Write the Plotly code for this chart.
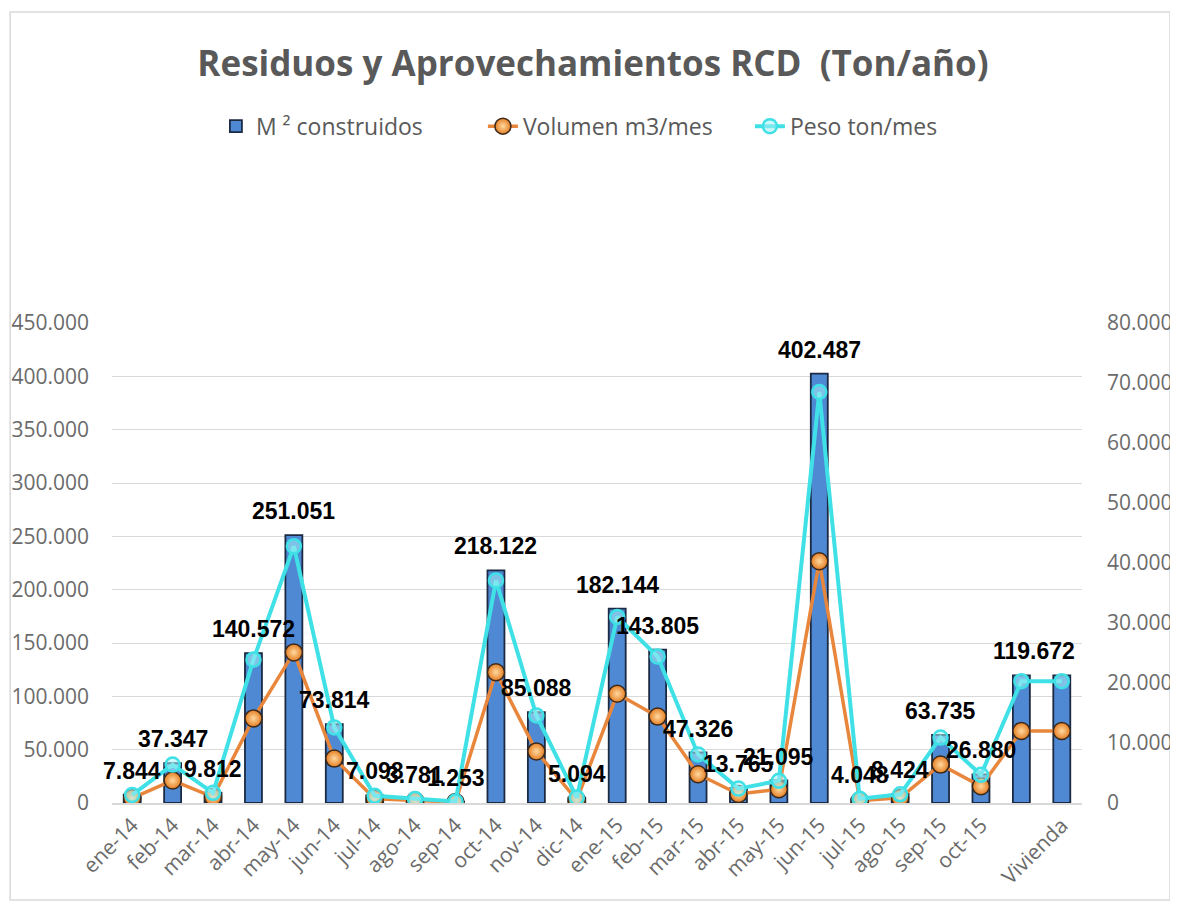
import plotly.graph_objects as go

categories = ["ene-14", "feb-14", "mar-14", "abr-14", "may-14", "jun-14", "jul-14", "ago-14",
              "sep-14", "oct-14", "nov-14", "dic-14", "ene-15", "feb-15", "mar-15", "abr-15",
              "may-15", "jun-15", "jul-15", "ago-15", "sep-15", "oct-15", "", "Vivienda"]

m2_construidos = [7844, 37347, 9812, 140572, 251051, 73814, 7098, 3781, 1253, 218122, 85088, 5094,
                  182144, 143805, 47326, 13765, 21095, 402487, 4048, 8424, 63735, 26880, 119672, 119672]

volumen_m3_mes = [800, 3750, 1000, 14100, 25100, 7400, 700, 400, 150, 21800, 8600, 500,
                  18200, 14400, 4800, 1500, 2300, 40300, 400, 850, 6400, 2800, 12000, 12000]

peso_ton_mes = [1350, 6400, 1700, 23900, 42800, 12600, 1200, 650, 250, 37100, 14600, 900,
                31000, 24400, 8100, 2400, 3700, 68500, 700, 1450, 10900, 4700, 20300, 20300]

show_label = [True] * 23 + [False]

x = list(range(len(categories)))

fig = go.Figure()

fig.add_trace(go.Bar(
    x=x, y=m2_construidos, name="M ² construidos",
    width=0.42,
    marker=dict(color="#4f89d4", line=dict(color="#1b2a42", width=1.8)),
    yaxis="y",
))

fig.add_trace(go.Scatter(
    x=x, y=volumen_m3_mes, name="Volumen m3/mes", mode="lines+markers",
    line=dict(color="#e8863c", width=3.5),
    marker=dict(symbol="circle", size=17, color="#e57e22",
                gradient=dict(type="radial", color="#ffd9a0"),
                line=dict(color="#3b2a1c", width=1.5)),
    yaxis="y2",
))

fig.add_trace(go.Scatter(
    x=x, y=peso_ton_mes, name="Peso ton/mes", mode="lines+markers",
    line=dict(color="#3fe0e6", width=4),
    marker=dict(symbol="circle", size=14, color="rgba(170,240,245,0.55)",
                line=dict(color="#3fe0e6", width=2.5)),
    yaxis="y2",
))

annotations = []
for i, v in enumerate(m2_construidos):
    if not show_label[i]:
        continue
    annotations.append(dict(
        x=x[i], y=v, xref="x", yref="y",
        text=f"{v:,}".replace(",", "."),
        showarrow=False, yshift=24, xshift=13 if i == 22 else 0,
        font=dict(family="Liberation Sans", size=23, color="#000000", weight="bold"),
    ))

tick_font = dict(family="Open Sans", size=21, color="#6b6b6b")

fig.update_layout(
    width=1170, height=898,
    margin=dict(l=104, r=96, t=315, b=103, autoexpand=False),
    paper_bgcolor="white", plot_bgcolor="white",
    separators=",.",
    title=dict(text="Residuos y Aprovechamientos RCD  (Ton/año)",
               x=0.5, xanchor="center", y=0.938, yanchor="middle",
               font=dict(family="Open Sans", size=35, color="#595959", weight="bold")),
    legend=dict(orientation="h", x=0.52, xanchor="center", y=1.41, yanchor="middle",
                font=dict(family="Open Sans", size=23, color="#595959"),
                entrywidth=222, entrywidthmode="pixels",
                traceorder="normal", bgcolor="rgba(0,0,0,0)"),
    xaxis=dict(
        tickmode="array", tickvals=x, ticktext=categories, tickangle=-45,
        range=[-0.5, len(categories) - 0.5], automargin=False,
        showgrid=False, showline=True, linecolor="#d9d9d9", linewidth=1.5,
        ticks="", tickfont=tick_font, zeroline=False,
    ),
    yaxis=dict(
        range=[0, 450000], tickmode="linear", tick0=0, dtick=50000, tickformat=",d",
        showgrid=True, gridcolor="#d9d9d9", gridwidth=1.2, zeroline=False, automargin=False,
        showline=False, tickfont=tick_font, ticklabelstandoff=22,
    ),
    yaxis2=dict(
        range=[0, 80000], tickmode="linear", tick0=0, dtick=10000, tickformat=",d",
        overlaying="y", side="right", showgrid=False, zeroline=False, automargin=False,
        showline=False, tickfont=tick_font, ticklabelstandoff=24,
    ),
    annotations=annotations,
    shapes=[dict(type="rect", xref="paper", yref="paper",
                 x0=-0.105, x1=1.0907, y0=-0.202, y1=1.648,
                 line=dict(color="#d9d9d9", width=1.5), layer="below")],
)

fig.write_html("out.html")
